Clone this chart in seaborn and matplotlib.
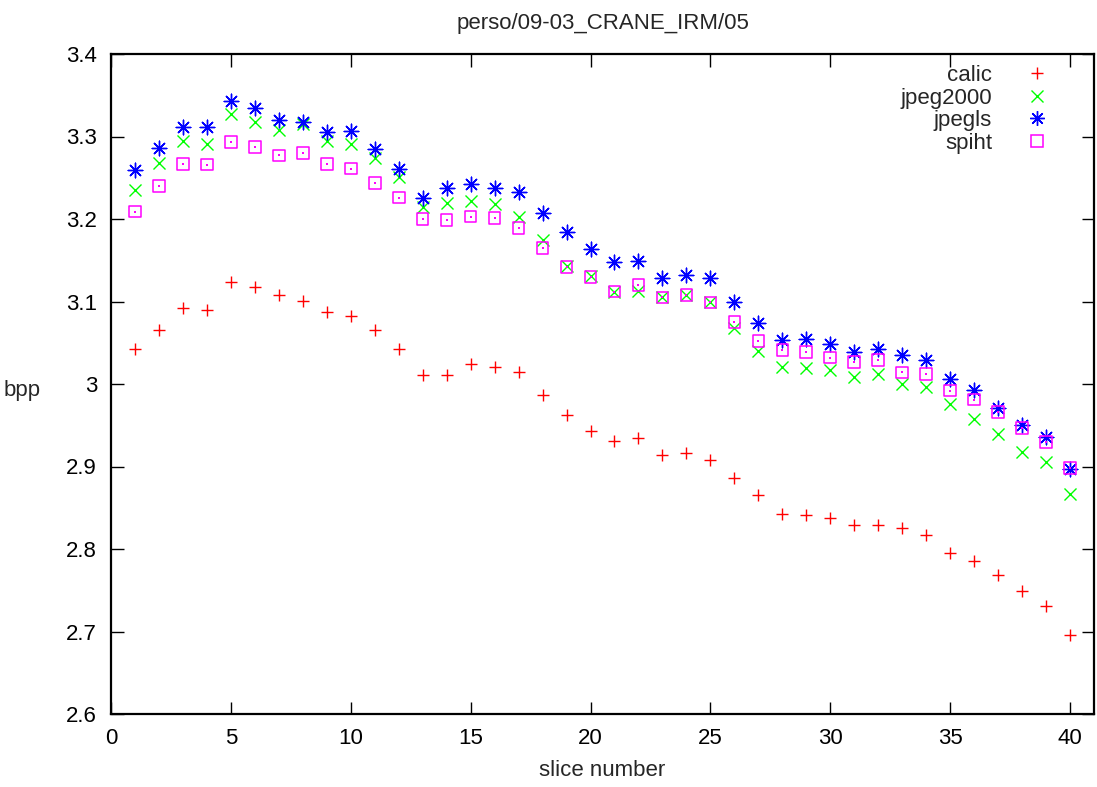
import matplotlib
matplotlib.use("Agg")
import matplotlib.pyplot as plt
from matplotlib.lines import Line2D
from matplotlib.ticker import FormatStrFormatter, MultipleLocator
import pandas as pd
import seaborn as sns

# slice numbers 1..40 and bits per pixel for each codec
slices = list(range(1, 41))

calic = [3.043, 3.065, 3.092, 3.090, 3.124, 3.117, 3.108, 3.101, 3.087, 3.083,
         3.066, 3.043, 3.011, 3.011, 3.024, 3.021, 3.015, 2.987, 2.962, 2.943,
         2.931, 2.934, 2.914, 2.916, 2.908, 2.886, 2.865, 2.842, 2.841, 2.837,
         2.829, 2.829, 2.825, 2.817, 2.795, 2.785, 2.769, 2.749, 2.731, 2.696]

jpeg2000 = [3.235, 3.268, 3.294, 3.291, 3.327, 3.317, 3.308, 3.315, 3.295, 3.291,
            3.274, 3.251, 3.215, 3.220, 3.222, 3.218, 3.203, 3.175, 3.143, 3.131,
            3.112, 3.113, 3.106, 3.108, 3.099, 3.068, 3.040, 3.021, 3.020, 3.017,
            3.009, 3.012, 3.000, 2.996, 2.976, 2.958, 2.940, 2.918, 2.905, 2.867]

jpegls = [3.260, 3.286, 3.312, 3.311, 3.343, 3.334, 3.320, 3.317, 3.306, 3.307,
          3.285, 3.261, 3.225, 3.238, 3.242, 3.237, 3.233, 3.207, 3.184, 3.164,
          3.148, 3.149, 3.129, 3.132, 3.128, 3.100, 3.074, 3.053, 3.055, 3.049,
          3.039, 3.043, 3.035, 3.029, 3.006, 2.993, 2.971, 2.950, 2.936, 2.897]

spiht = [3.209, 3.240, 3.267, 3.266, 3.293, 3.287, 3.277, 3.280, 3.267, 3.261,
         3.244, 3.226, 3.200, 3.199, 3.203, 3.201, 3.189, 3.165, 3.142, 3.130,
         3.112, 3.120, 3.105, 3.108, 3.099, 3.075, 3.052, 3.041, 3.039, 3.032,
         3.027, 3.029, 3.014, 3.012, 2.992, 2.981, 2.966, 2.947, 2.930, 2.898]

codecs = ["calic", "jpeg2000", "jpegls", "spiht"]
colors = {"calic": "#ff0000", "jpeg2000": "#00ff00", "jpegls": "#0000ff", "spiht": "#ff00ff"}
markers = {"calic": "+", "jpeg2000": "x", "jpegls": (8, 2, 0), "spiht": "s"}
sizes = {"calic": 75, "jpeg2000": 75, "jpegls": 110, "spiht": 70}

df = pd.DataFrame({"slice": slices, "calic": calic, "jpeg2000": jpeg2000,
                   "jpegls": jpegls, "spiht": spiht})
long_df = df.melt(id_vars="slice", var_name="codec", value_name="bpp")

sns.set_style("ticks")
plt.rcParams["font.family"] = ["Liberation Sans", "DejaVu Sans"]
plt.rcParams["font.size"] = 16

fig, ax = plt.subplots(figsize=(10.97, 7.87), dpi=100)
fig.subplots_adjust(left=111 / 1097, right=1094 / 1097, bottom=1 - 714 / 787, top=1 - 54 / 787)

for name in codecs:
    sub = long_df[long_df["codec"] == name]
    c = colors[name]
    if name == "spiht":
        sns.scatterplot(data=sub, x="slice", y="bpp", marker="s", s=sizes[name],
                        facecolors="none", edgecolor=c, linewidth=1.1, ax=ax, legend=False)
        # little dot in the middle of the gnuplot box
        sns.scatterplot(data=sub, x="slice", y="bpp", marker="s", s=1.5,
                        color=c, linewidth=0, ax=ax, legend=False)
    else:
        sns.scatterplot(data=sub, x="slice", y="bpp", marker=markers[name], s=sizes[name],
                        color=c, linewidth=1.0, ax=ax, legend=False)

ax.set_xlim(0, 41)
ax.set_ylim(2.6, 3.4)
ax.xaxis.set_major_locator(MultipleLocator(5))
ax.yaxis.set_major_locator(MultipleLocator(0.1))
ax.yaxis.set_major_formatter(FormatStrFormatter("%g"))
ax.set_xticks(range(0, 41, 5))

ax.tick_params(direction="in", length=9, width=1, top=True, right=True,
               labelsize=16, colors="black", pad=10)
for sp in ax.spines.values():
    sp.set_visible(True)
    sp.set_linewidth(1.6)
    sp.set_color("black")

ax.set_title("perso/09-03_CRANE_IRM/05", fontsize=16, pad=18)
ax.set_xlabel("slice number", fontsize=16)
ax.xaxis.set_label_coords(0.5, (714 - 771) / 660)
ax.xaxis.label.set_va("center")
ax.set_ylabel("bpp", fontsize=16, rotation=0, ha="center", va="center")
ax.yaxis.set_label_coords((22 - 111) / 983, (714 - 391) / 660)

handles = []
for name in codecs:
    c = colors[name]
    ms = (sizes[name] ** 0.5)
    if name == "spiht":
        h = Line2D([], [], ls="none", marker="s", markersize=ms, mfc="none", mec=c, mew=1.1)
    else:
        h = Line2D([], [], ls="none", marker=markers[name], markersize=ms, color=c, mew=1.0)
    handles.append(h)

ax.legend(handles, codecs, loc="upper right", bbox_to_anchor=(1050 / 1097, 1 - 65 / 787),
          bbox_transform=fig.transFigure, frameon=False, markerfirst=False,
          handlelength=1.2, handletextpad=1.4, labelspacing=0.07, borderpad=0,
          borderaxespad=0, numpoints=1, fontsize=16)

plt.savefig("out.png", dpi=100)
